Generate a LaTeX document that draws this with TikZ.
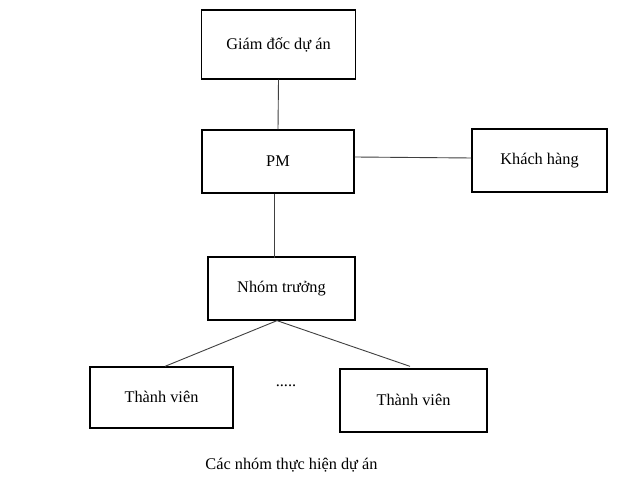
\documentclass[tikz,border=0pt]{standalone}
\usepackage{fontspec}
\setmainfont{Liberation Serif}
\usetikzlibrary{calc}
\begin{document}
\begin{tikzpicture}[x=1pt,y=1pt,
  box/.style={draw=black,line width=1.3pt,inner sep=0pt,align=center,font=\fontsize{16.3}{19}\selectfont},
  link/.style={draw=black!75,line width=0.9pt},
  plain/.style={inner sep=0pt,font=\fontsize{16.3}{19}\selectfont}]
\useasboundingbox (0,0) rectangle (640,484);
\fill[white] (0,0) rectangle (640,484);
\node[box,minimum width=154,minimum height=69] (gd) at (278.5,439.5) {Giám đốc dự án};
\node[box,minimum width=152,minimum height=63] (pm) at (278,322.5) {\raisebox{-2pt}{PM}};
\node[box,minimum width=135,minimum height=63] (kh) at (539.5,323.5) {Khách hàng};
\node[box,minimum width=147,minimum height=63] (nt) at (281.5,195.5) {\raisebox{1.5pt}{Nhóm trưởng}};
\node[box,minimum width=143,minimum height=61] (tv1) at (161.5,86.5) {\raisebox{1.5pt}{Thành viên}};
\node[box,minimum width=147,minimum height=63] (tv2) at (413.5,83.5) {\raisebox{1.5pt}{Thành viên}};
\node[plain] (dots) at (286,98) {.....};
\node[plain] (cap) at (291.5,19) {Các nhóm thực hiện dự án};
\draw[link] (gd.south) -- (pm.north);
\draw[link] ([yshift=4.5pt]pm.east) -- ([yshift=2.5pt]kh.west);
\draw[link] ([xshift=-4pt]pm.south) -- ([xshift=-7.5pt,yshift=-2pt]nt.north);
\draw[link] ([xshift=-4.5pt]nt.south) -- ([xshift=3.5pt]tv1.north);
\draw[link] ([xshift=-4.5pt]nt.south) -- ([xshift=-3.5pt,yshift=2pt]tv2.north);
\end{tikzpicture}
\end{document}
